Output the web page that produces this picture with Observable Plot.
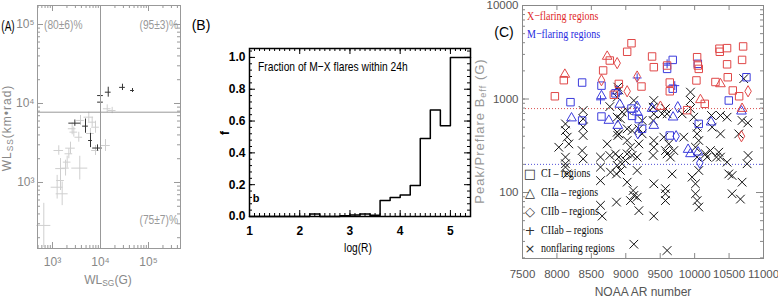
<!DOCTYPE html>
<html><head><meta charset="utf-8">
<script src="https://cdn.jsdelivr.net/npm/d3@7"></script>
<script src="https://cdn.jsdelivr.net/npm/@observablehq/plot@0.6"></script>
<style>
body{margin:0;background:#fff;}
#wrap{position:relative;width:778px;height:300px;overflow:hidden;font-family:"Liberation Sans",Arial,sans-serif;background:#fff;}
#wrap svg{position:absolute;top:0;}
.lbl{position:absolute;white-space:nowrap;line-height:1;}
.lbl sub{font-size:70%;vertical-align:-0.25em;line-height:0;}
</style></head><body><div id="wrap"></div>
<script>
// ---------------- Panel A data ----------------
const aGroup = ["dark","dark","dark","dark","dark","dark","dark","dark","dark",
  "light","light","light","light","light","light","light","light","light","light","light","light",
  "light","light","light","light","light","light","light","light","light","light","light"];
const aWLSG = [2920,4870,6190,10000,10000,14500,28700,46400,8660,
  659,1352,2370,2190,2020,1870,1470,1470,1250,1590,3700,2570,
  3830,5700,6710,7870,6170,3530,2780,12700,13800,17500,7870];
const aWLSS = [5640,5170,3400,12600,10400,13900,16000,14600,2730,
  286,2540,2720,2310,1810,1520,1500,1060,871,719,1520,4790,
  6100,6710,5800,5010,4170,3740,4340,2940,8570,8150,2540];
const aErrX = [0.125,0.06,0.04,0.06,0.06,0.06,0.06,0.04,0.1,
  0.146,0.1,0.1,0.08,0.08,0.08,0.1,0.08,0.125,0.125,0.167,0.08,
  0.08,0.1,0.08,0.08,0.08,0.08,0.08,0.1,0.08,0.08,0.08];
const aErrY = [0.04,0.09,0.09,0.025,0.015,0.063,0.04,0.025,0.04,
  0.28,0.06,0.076,0.063,0.076,0.1,0.127,0.127,0.15,0.15,0.15,0.076,
  0.063,0.063,0.063,0.076,0.063,0.063,0.063,0.076,0.05,0.04,0.063];
const aSplitX = 10000, aSplitY = 7760;
const aTickLabels = [1e3, 1e4, 1e5];
const aQuadText = ["(80±6)%", "(95±3)%", "(75±7)%"];

// ---------------- Panel B data ----------------
const bBinLeft = [1.0,1.2,1.4,1.6,1.8,2.0,2.2,2.4,2.6,2.8,3.0,3.2,3.4,3.6,3.8,4.0,4.2,4.4,4.6,4.8,5.0,5.2];
const bFrac    = [0,0,0,0,0,0,0.015,0,0,0.005,0.01,0.015,0.008,0.10,0.12,0.135,0.195,0.49,0.67,0.57,1.0,1.0];
const bLastEdge = 5.4;
const bXTicks = [1,2,3,4,5];
const bYTicks = [0,0.2,0.4,0.6,0.8,1.0];

// ---------------- Panel C data ----------------
const redAR  = [7970,8100,8115,8768,8730,8671,8875,9020,9083,8647,8899,8826,9020,9165,9228,9382,9407,9639,9639,9600,10036,10046,10060,10026,10084,10147,9891,9503,10365,10360,10471,10471,10481,10375,10302,10689,10704,10554,10646,10776,10689,10680];
const redVal = [1070,1590,1830,2580,2850,2020,2420,3200,3950,1590,1450,1110,1210,1740,1360,2850,2190,1500,1210,2280,2800,2280,2100,1580,980,888,760,830,3200,3450,3500,2350,1710,1450,1520,2620,3650,1234,1070,1210,790,400];
const redType= ["sq","sq","tri","sq","tri","sq","dia","sq","sq","dia","sq","sq","dia","dia","sq","sq","sq","sq","sq","sq","sq","sq","sq","sq","tri","sq","sq","tri","sq","sq","sq","sq","sq","tri","sq","sq","sq","sq","sq","dia","tri","dia"];

const blueAR  = [8366,8197,8212,8366,8647,8647,8633,8647,8754,8850,8875,8913,8884,9083,9165,9165,9165,9190,9175,9092,9682,9600,9600,9682,9711,10046,9755,9382,9687,9407,9237,9639,9731,9905,9939,10050,10075,10239,10060,10496,10752,10680];
const blueVal = [1500,925,625,589,1390,1080,980,650,589,1150,1210,875,520,790,830,1680,725,610,430,660,2620,2100,2380,1290,1390,2380,818,790,639,520,480,407,400,288,259,270,208,565,542,964,1710,740];
const blueType= ["sq","sq","tri","sq","sq","tri","plus","sq","tri","sq","tri","tri","tri","sq","dia","plus","tri","sq","dia","sq","sq","sq","plus","sq","plus","sq","dia","tri","tri","tri","sq","sq","dia","tri","tri","tri","dia","tri","sq","sq","sq","tri"];

const nonAR  = [8124,8124,8149,8027,8173,8124,8124,8124,8149,8381,8381,8381,8381,8366,8381,8633,8633,8633,8633,8657,8730,8768,8778,8768,8884,8899,8875,8875,8923,8875,8884,8899,8850,8899,8875,8947,8865,8923,8865,9020,9020,9068,9020,8995,9092,9117,9092,9190,9190,9165,9165,9020,9107,9117,9068,9165,9190,9117,9238,9238,8947,9020,
  9407,9397,9407,9397,9407,9407,9397,9407,9407,9576,9600,9528,9552,9624,9576,9600,9648,9697,9673,9576,9576,9576,9600,9818,9939,9939,9939,9987,10036,10036,10060,10012,10036,10060,9963,10012,10012,10036,10060,10244,10375,10471,10254,10375,10229,10350,10375,10317,10471,10157,10181,10496,10544,10689,10544,10665,10641,10689,10772,10776,10762,10713,9842];
const nonVal = [542,460,391,305,331,239,203,187,158,754,614,500,407,281,229,239,187,134,73,56,331,249,165,830,1340,1250,1047,639,614,441,407,424,259,239,195,203,158,172,79,480,360,305,259,220,249,964,460,480,331,239,172,129,105,93,82,89,64,28,589,424,725,754,
  964,818,694,589,360,305,249,124,56,790,694,694,391,331,281,259,239,281,158,110,97,82,24,694,1185,964,790,639,500,424,360,305,239,172,146,124,97,82,70,667,667,639,500,424,281,270,239,239,211,259,239,158,152,129,97,85,424,589,555,249,203,1650,391];
const cXThresh = 790, cMThresh = 200;
const cXTicks = [7500,8000,8500,9000,9500,10000,10500,11000];
const cYTicks = [100,1000,10000];
const cLegend = [["□","CI – regions"],["△","CIIa – regions"],["◇","CIIb – regions"],["+","CIIab – regions"],["×","nonflaring regions"]];

// ---------------- helpers ----------------
const wrap = document.getElementById("wrap");
const baseStyle = {background:"transparent", fontFamily:"Liberation Sans, Arial, sans-serif", overflow:"visible"};
function logTicks(lo, hi) {
  const out = [];
  for (let e = Math.floor(Math.log10(lo)); e <= Math.ceil(Math.log10(hi)); e++)
    for (let k = 1; k <= 9; k++) { const v = k * 10 ** e; if (v >= lo && v <= hi) out.push(v); }
  return out;
}
function stepTicks(lo, hi, s) { const out = []; for (let i = 0; lo + i * s <= hi + 1e-9; i++) out.push(+(lo + i * s).toFixed(6)); return out; }
function xTicks(vals, len, H, stroke, sw=1) {
  return [Plot.tickX(vals, {x: d => d, insetTop: H - len, stroke, strokeWidth: sw}),
          Plot.tickX(vals, {x: d => d, insetBottom: H - len, stroke, strokeWidth: sw})];
}
function yTicks(vals, len, W, stroke, sw=1) {
  return [Plot.tickY(vals, {y: d => d, insetRight: W - len, stroke, strokeWidth: sw}),
          Plot.tickY(vals, {y: d => d, insetLeft: W - len, stroke, strokeWidth: sw})];
}
function place(svg, left) { svg.style.left = left + "px"; wrap.appendChild(svg); }
function lab(html, x, y, o = {}) {
  const d = document.createElement("div");
  d.className = "lbl"; d.innerHTML = html;
  d.style.left = x + "px"; d.style.top = y + "px";
  d.style.fontSize = (o.size || 12) + "px";
  d.style.color = o.color || "#000";
  if (o.font) d.style.fontFamily = o.font;
  if (o.weight) d.style.fontWeight = o.weight;
  if (o.ls) d.style.letterSpacing = o.ls + "px";
  const sx = o.sx ? ` scaleX(${o.sx})` : "";
  let t;
  if (o.rotate) t = `translate(-50%,-50%) rotate(${o.rotate}deg)${sx}`;
  else if (o.anchor === "start") { d.style.transformOrigin = "0 50%"; t = `translateY(-50%)${sx}`; }
  else if (o.anchor === "end") { d.style.transformOrigin = "100% 50%"; t = `translate(-100%,-50%)${sx}`; }
  else t = `translate(-50%,-50%)${sx}`;
  d.style.transform = t;
  wrap.appendChild(d);
}
const sup = {"3":"³","4":"⁴","5":"⁵","2":"²"};
const supFmt = d => "10" + sup[String(Math.round(Math.log10(d)))];

// ---------------- Panel A ----------------
{
  const W = 200, H = 300, ML = 37, MR = 20, MT = 5, MB = 52;
  const iw = W - ML - MR, ih = H - MT - MB;
  const xd = [487, 464000], yd = [146, 174000];
  const rows = aWLSG.map((x, i) => ({x, y: aWLSS[i], ex: aErrX[i], ey: aErrY[i], g: aGroup[i]}));
  const grp = g => rows.filter(r => r.g === g);
  const bars = (data, stroke) => [
    Plot.ruleX(data, {x: "x", y1: d => d.y / 10 ** d.ey, y2: d => d.y * 10 ** d.ey, stroke, strokeWidth: 1}),
    Plot.ruleY(data, {y: "y", x1: d => d.x / 10 ** d.ex, x2: d => d.x * 10 ** d.ex, stroke, strokeWidth: 1})
  ];
  const gray = "#999";
  const svg = Plot.plot({
    width: W, height: H, marginLeft: ML, marginRight: MR, marginTop: MT, marginBottom: MB,
    style: baseStyle,
    x: {type: "log", domain: xd}, y: {type: "log", domain: yd},
    marks: [
      ...bars(grp("light"), "#cfcfcf"),
      ...bars(grp("dark"), "#333"),
      Plot.ruleX([aSplitX], {stroke: gray}),
      Plot.ruleY([aSplitY], {stroke: gray}),
      Plot.frame({stroke: gray}),
      ...xTicks(logTicks(xd[0], xd[1]), 3, ih, gray),
      ...xTicks(aTickLabels, 6, ih, gray),
      ...yTicks(logTicks(yd[0], yd[1]), 3, iw, gray),
      ...yTicks(aTickLabels, 6, iw, gray),
      Plot.axisX(aTickLabels, {tickSize: 0, tickPadding: 9, tickFormat: supFmt, label: null, fill: "#888", fontSize: 12}),
      Plot.axisY(aTickLabels, {tickSize: 0, tickPadding: 3, tickFormat: supFmt, label: null, fill: "#888", fontSize: 12})
    ]
  });
  place(svg, 0);
  lab("(A)", 8, 26, {size: 14, sx: 0.72});
  lab("WL<sub>SS</sub>(km•rad)", 7, 128, {rotate: -90, color: "#888", size: 12, ls: 1});
  lab("WL<sub>SG</sub>(G)", 108, 280, {color: "#888", size: 12});
  lab(aQuadText[0], 44, 25, {anchor: "start", color: "#999", size: 12, sx: 0.85});
  lab(aQuadText[1], 178, 25, {anchor: "end", color: "#999", size: 12, sx: 0.85});
  lab(aQuadText[2], 178, 220, {anchor: "end", color: "#999", size: 12, sx: 0.85});
}

// ---------------- Panel B ----------------
{
  const W = 305, H = 300, ML = 64, MR = 20, MT = 48, MB = 84;
  const iw = W - ML - MR, ih = H - MT - MB;
  const pts = bBinLeft.map((x, i) => ({x, y: bFrac[i]}));
  pts.push({x: bLastEdge, y: bFrac[bFrac.length - 1]});
  const svg = Plot.plot({
    width: W, height: H, marginLeft: ML, marginRight: MR, marginTop: MT, marginBottom: MB,
    style: baseStyle,
    x: {domain: [1, 5.4]}, y: {domain: [0, 1.056]},
    marks: [
      Plot.line(pts, {x: "x", y: "y", curve: "step-after", stroke: "#000", strokeWidth: 1.5}),
      Plot.frame({stroke: "#000", strokeWidth: 1.5}),
      ...xTicks(stepTicks(1, 5.4, 0.1), 3, ih, "#000"),
      ...xTicks(bXTicks, 6, ih, "#000"),
      ...yTicks(stepTicks(0, 1.04, 0.04), 3, iw, "#000"),
      ...yTicks(bYTicks, 6, iw, "#000"),
      Plot.axisX(bXTicks, {tickSize: 0, tickPadding: 10, tickFormat: d => String(d), label: null, fill: "#000", fontSize: 12, fontWeight: "bold"}),
      Plot.axisY(bYTicks, {tickSize: 0, tickPadding: 4, tickFormat: d3.format(".1f"), label: null, fill: "#000", fontSize: 12, fontWeight: "bold"})
    ]
  });
  place(svg, 185);
  lab("(B)", 201, 25, {size: 14});
  lab("Fraction of M−X flares within 24h", 258, 67, {anchor: "start", size: 13.5, sx: 0.76});
  lab("b", 256, 198, {size: 11, weight: "bold"});
  lab("f", 225, 133, {rotate: -90, size: 12, weight: "bold"});
  lab("log(R)", 358, 248, {size: 12, sx: 0.85});
}

// ---------------- Panel C ----------------
{
  const W = 308, H = 300, ML = 52, MR = 15, MT = 5, MB = 42;
  const iw = W - ML - MR, ih = H - MT - MB;
  const yd = [19.7, 10000];
  const red = redAR.map((ar, i) => ({ar, v: redVal[i], t: redType[i]}));
  const blue = blueAR.map((ar, i) => ({ar, v: blueVal[i], t: blueType[i]}));
  const non = nonAR.map((ar, i) => ({ar, v: nonVal[i]}));
  const symOf = {sq: "square", tri: "triangle", dia: "diamond", plus: "plus"};
  const rOf = {sq: 4.2, tri: 3.6, dia: 3.4, plus: 3};
  const flared = (data, stroke) => Object.keys(symOf).map(t =>
    Plot.dot(data.filter(d => d.t === t), {x: "ar", y: "v", symbol: symOf[t], r: rOf[t], fill: "none", stroke, strokeWidth: 1}));
  const gray = "#888";
  const svg = Plot.plot({
    width: W, height: H, marginLeft: ML, marginRight: MR, marginTop: MT, marginBottom: MB,
    style: baseStyle,
    x: {domain: [7500, 11000]}, y: {type: "log", domain: yd},
    marks: [
      Plot.ruleY([cXThresh], {stroke: "#d85050", strokeDasharray: "1,2"}),
      Plot.ruleY([cMThresh], {stroke: "#5050d8", strokeDasharray: "1,2"}),
      Plot.dot(non, {x: "ar", y: "v", symbol: "times", r: 4, stroke: "#111", strokeWidth: 1}),
      ...flared(blue, "#3c3cdc"),
      ...flared(red, "#e04848"),
      Plot.frame({stroke: gray}),
      ...xTicks(cXTicks, 5, ih, gray),
      ...yTicks(logTicks(yd[0], yd[1]), 3, iw, gray),
      ...yTicks(cYTicks, 7, iw, gray),
      Plot.axisX(cXTicks, {tickSize: 0, tickPadding: 11, tickFormat: d3.format("d"), label: null, fill: "#555", fontSize: 11.5}),
      Plot.axisY(cYTicks, {tickSize: 0, tickPadding: 4, tickFormat: d3.format("d"), label: null, fill: "#555", fontSize: 11.5})
    ]
  });
  place(svg, 470);
  lab("(C)", 504, 32, {size: 14});
  lab("Peak/Preflare B<sub>eff</sub> (G)", 479, 131, {rotate: -90, size: 13, color: "#999", ls: 1});
  lab("NOAA AR number", 643, 292, {size: 12, color: "#555"});
  lab("X−flaring regions", 527, 16, {anchor: "start", size: 12.5, sx: 0.8, color: "#e02828", font: "Liberation Serif, serif"});
  lab("M−flaring regions", 527, 34, {anchor: "start", size: 12.5, sx: 0.8, color: "#2828e0", font: "Liberation Serif, serif"});
  const ly = [173, 192, 211, 230, 248];
  cLegend.forEach(([s, t], i) => {
    lab(s, 530, ly[i], {size: 13, color: "#333", font: "DejaVu Sans, sans-serif"});
    lab(t, 541, ly[i], {anchor: "start", size: 12.5, sx: 0.8, color: "#111", font: "Liberation Serif, serif"});
  });
}
</script></body></html>
